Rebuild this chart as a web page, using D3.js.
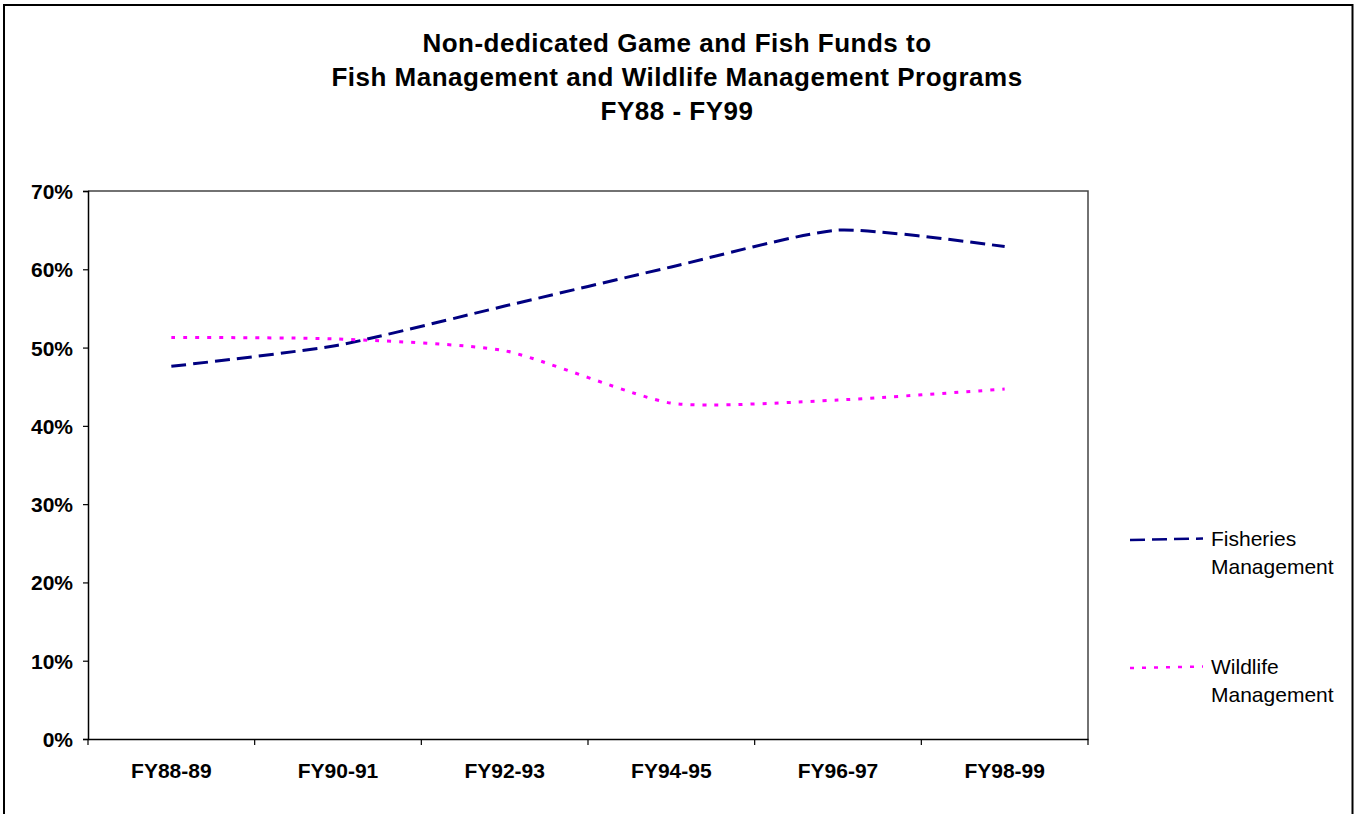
<!DOCTYPE html>
<html>
<head>
<meta charset="utf-8">
<script src="https://cdn.jsdelivr.net/npm/d3@7"></script>
<style>
  html, body { margin: 0; padding: 0; background: #fff; }
  svg { display: block; font-family: "Liberation Sans", Arial, sans-serif; }
</style>
</head>
<body>
<svg id="chart" width="1355" height="814"></svg>
<script>
// ---- data ----
const titleLines = [
  "Non-dedicated Game and Fish Funds to",
  "Fish Management and Wildlife Management Programs",
  "FY88 - FY99"
];
const categories = ["FY88-89", "FY90-91", "FY92-93", "FY94-95", "FY96-97", "FY98-99"];
const fisheries = [0.476, 0.503, 0.553, 0.603, 0.650, 0.629];
const wildlife  = [0.513, 0.511, 0.496, 0.429, 0.433, 0.447];
const yTicks = [0, 0.1, 0.2, 0.3, 0.4, 0.5, 0.6, 0.7];
const seriesNames = [["Fisheries", "Management"], ["Wildlife", "Management"]];

// ---- layout ----
const svg = d3.select("#chart");
const plot = { left: 88, right: 1088, top: 191, bottom: 739 };

// outer chart border
svg.append("rect")
  .attr("x", 4).attr("y", 5).attr("width", 1348.5).attr("height", 860)
  .attr("fill", "none").attr("stroke", "#000").attr("stroke-width", 2);

// title
svg.append("g").selectAll("text").data(titleLines).join("text")
  .attr("x", 677).attr("y", (d, i) => 52 + i * 34.2)
  .attr("text-anchor", "middle")
  .attr("font-size", 26).attr("font-weight", "bold")
  .attr("letter-spacing", 0.5)
  .attr("fill", "#000")
  .text(d => d);

const x = d3.scaleBand().domain(categories).range([plot.left, plot.right]);
const y = d3.scaleLinear().domain([0, 0.7]).range([plot.bottom, plot.top]);
const cx = c => x(c) + x.bandwidth() / 2;

// plot area border (top & right)
svg.append("path")
  .attr("d", `M${plot.left},${y(0.7)}H${plot.right}V${y(0)}`)
  .attr("fill", "none").attr("stroke", "#444").attr("stroke-width", 1.5);

// y axis
const yAxis = svg.append("g")
  .attr("transform", `translate(${plot.left},0)`)
  .call(d3.axisLeft(y).tickValues(yTicks).tickFormat(d3.format(".0%")).tickSize(5).tickPadding(10));
yAxis.select(".domain").attr("stroke", "#000").attr("stroke-width", 1.5);
yAxis.selectAll(".tick line").attr("stroke", "#000").attr("stroke-width", 1.2);
yAxis.selectAll(".tick text")
  .attr("font-size", 21).attr("font-weight", "bold").attr("fill", "#000")
  .attr("font-family", "'Liberation Sans', Arial, sans-serif")
  .attr("dy", "0.36em");

// x axis: labels
const xAxis = svg.append("g")
  .attr("transform", `translate(0,${plot.bottom})`)
  .call(d3.axisBottom(x).tickSize(0).tickPadding(0));
xAxis.select(".domain").attr("stroke", "#000").attr("stroke-width", 1.5);
xAxis.selectAll(".tick text")
  .attr("font-size", 21).attr("font-weight", "bold").attr("fill", "#000")
  .attr("font-family", "'Liberation Sans', Arial, sans-serif")
  .attr("dy", 0).attr("y", 39);
// x axis: boundary tick marks
const edges = categories.map(c => x(c)).concat([x.range()[1]]);
xAxis.selectAll("line.edge").data(edges).join("line")
  .attr("class", "edge")
  .attr("x1", d => d).attr("x2", d => d)
  .attr("y1", 0).attr("y2", 6)
  .attr("stroke", "#000").attr("stroke-width", 1.2);

// lines
const line = d3.line()
  .x((d, i) => cx(categories[i]))
  .y(d => y(d))
  .curve(d3.curveCardinal.tension(0.4));

const styles = [
  { data: fisheries, color: "#000080", dash: "15,7" },
  { data: wildlife,  color: "#FF00FF", dash: "4,8" }
];

svg.append("g").selectAll("path").data(styles).join("path")
  .attr("d", d => line(d.data))
  .attr("fill", "none")
  .attr("stroke", d => d.color)
  .attr("stroke-width", 3)
  .attr("stroke-dasharray", d => d.dash);

// legend
const legendY = [540, 668];
const lg = svg.append("g");
styles.forEach((s, i) => {
  lg.append("line")
    .attr("x1", 1130).attr("x2", 1203)
    .attr("y1", legendY[i]).attr("y2", legendY[i] - 1.5)
    .attr("stroke", s.color).attr("stroke-width", 2.5)
    .attr("stroke-dasharray", s.dash);
  lg.append("text")
    .attr("x", 1211).attr("y", legendY[i] + 6)
    .attr("font-size", 21).attr("fill", "#000")
    .selectAll("tspan").data(seriesNames[i]).join("tspan")
    .attr("x", 1211).attr("dy", (d, j) => j === 0 ? 0 : 27.5)
    .text(d => d);
});
</script>
</body>
</html>
